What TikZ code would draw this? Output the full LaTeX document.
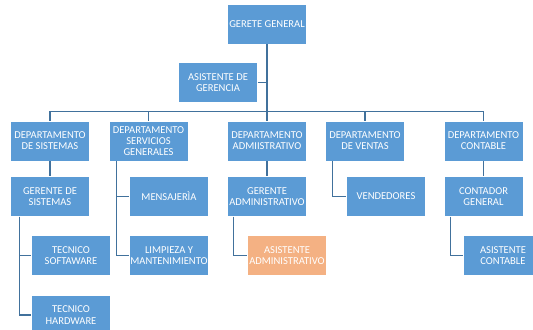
\documentclass[tikz,border=0pt]{standalone}
\usepackage{fontspec}
\setmainfont{Carlito}
\usepackage{tikz}
\usetikzlibrary{calc,positioning}
\definecolor{boxblue}{HTML}{5B9BD5}
\definecolor{boxorange}{HTML}{F4B183}
\definecolor{linkblue}{HTML}{41719C}

\begin{document}
\begin{tikzpicture}[x=1bp, y=-1bp, font=\fontsize{10.6}{11.2}\selectfont,
	box/.style={fill=boxblue, draw=white, thin, text=white, align=center, inner sep=0bp, minimum width=79bp, minimum height=40bp},
	link/.style={draw=linkblue, line width=1.3bp}]
	\useasboundingbox (0,0) rectangle (533,329);
	\clip (0,0) rectangle (533,329);

	\node (gerente) at (267, 24) [box, minimum height=39.5bp] {GERETE GENERAL};
	\node (asistgerencia) at (218, 82.5) [box] {ASISTENTE DE\\GERENCIA};

	\node (depsis) at (50, 141) [box] {DEPARTAMENTO\\DE SISTEMAS};
	\node (depserv) at (148.5, 141) [box] {DEPARTAMENTO\\SERVICIOS\\GENERALES};
	\node (depadm) at (267, 141) [box] {DEPARTAMENTO\\ADMIISTRATIVO};
	\node (depven) at (365, 141) [box] {DEPARTAMENTO\\DE VENTAS};
	\node (depcon) at (483.5, 141) [box] {DEPARTAMENTO\\CONTABLE};

	\node (gersis) at (50, 196.5) [box] {GERENTE DE\\SISTEMAS};
	\node (mensa) at (169, 196.5) [box] {MENSAJER\`IA};
	\node (gerenteadm) at (267, 196.5) [box] {GERENTE\\ADMINISTRATIVO};
	\node (vendedores) at (386, 196.5) [box] {VENDEDORES};
	\node (contador) at (483.5, 196.5) [box] {CONTADOR\\GENERAL};

	\node (tecsoft) at (71, 255.5) [box] {TECNICO\\SOFTAWARE};
	\node (limpieza) at (169, 255.5) [box] {LIMPIEZA Y\\MANTENIMIENTO};
	\node (asistadm) at (287, 255.5) [box, fill=boxorange] {ASISTENTE\\ADMINISTRATIVO};
	\node (asistcon) at (503, 255.5) [box] {ASISTENTE\\CONTABLE};
	\node (techard) at (71, 315) [box] {TECNICO\\HARDWARE};

	% barra principal
	\coordinate (bus) at (267, 111.5);
	\draw[link] (gerente.south) -- (gerente.south |- bus);
	\draw[link] (asistgerencia.east) -- (asistgerencia.east -| gerente.south);
	\foreach \d in {depsis, depserv, depadm, depven, depcon}
		\draw[link] (bus) -| (\d.north);

	\draw[link] (depsis.south) -- (gersis.north);
	\draw[link] (depadm.south) -- (gerenteadm.north);
	\draw[link] (depcon.south) -- (contador.north);
	\draw[link] ([xshift=8bp]depserv.south west) |- (mensa.west);
	\draw[link] ([xshift=8bp]depserv.south west) |- (limpieza.west);
	\draw[link] ([xshift=7bp]depven.south west) |- (vendedores.west);
	\draw[link] ([xshift=9bp]gersis.south west) |- (tecsoft.west);
	\draw[link] ([xshift=9bp]gersis.south west) |- (techard.west);
	\draw[link] ([xshift=6.5bp]gerenteadm.south west) |- (asistadm.west);
	\draw[link] ([xshift=7bp]contador.south west) |- (asistcon.west);
\end{tikzpicture}
\end{document}
